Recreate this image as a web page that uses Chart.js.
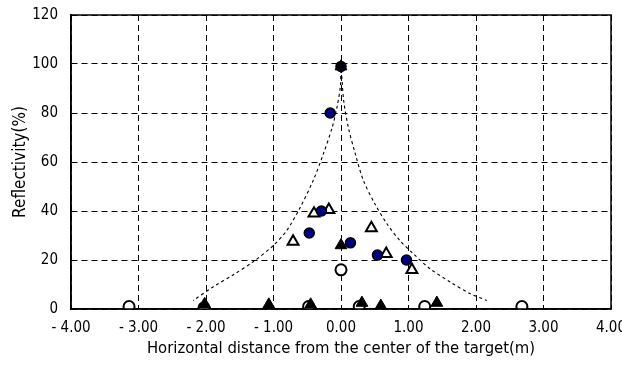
<!DOCTYPE html>
<html>
<head>
<meta charset="utf-8">
<script src="https://cdn.jsdelivr.net/npm/chart.js@4.4.0/dist/chart.umd.min.js"></script>
<style>
  html, body { margin: 0; padding: 0; background: #fff; }
  #wrap { width: 622px; height: 365px; }
</style>
</head>
<body>
<div id="wrap"><canvas id="reflectChart"></canvas></div>
<script>
// x ticks and labels
const xTickValues = [-4, -3, -2, -1, 0, 1, 2, 3, 4];
const xTickLabels = ["- 4.00", "- 3.00", "- 2.00", "- 1.00", "0.00", "1.00", "2.00", "3.00", "4.00"];
const yTickValues = [0, 20, 40, 60, 80, 100, 120];

// filled navy circles
const navyX = [0.00, -0.16, -0.29, -0.47, 0.14, 0.54, 0.97];
const navyY = [99, 80, 40, 31, 27, 22, 20];
// filled black triangles
const blackTriX = [0.00, 0.00, -2.02, -1.07, -0.45, 0.31, 0.59, 1.42];
const blackTriY = [99, 26, 2, 1.8, 1.8, 2.5, 1.3, 2.5];
// open triangles
const openTriX = [-0.71, -0.40, -0.18, 0.45, 0.67, 1.05];
const openTriY = [27.5, 39, 40.5, 33, 22.5, 16];
// open circles
const openCircX = [-3.14, -2.03, -0.48, 0.27, 1.24, 2.68, 0.00];
const openCircY = [1, 0.5, 1, 1, 1, 1, 16];
// dashed envelope, left and right branches
const leftCurveX = [0, -0.01, -0.06, -0.13, -0.26, -0.41, -0.60, -0.80, -1.00, -1.30, -1.60, -1.89, -2.19];
const leftCurveY = [100, 90.7, 82.3, 74.2, 63.4, 52.6, 41.7, 32.2, 26, 19.3, 13.9, 9.1, 3.5];
const rightCurveX = [0, 0.04, 0.11, 0.21, 0.33, 0.50, 0.68, 0.87, 1.07, 1.32, 1.62, 1.91, 2.16];
const rightCurveY = [100, 85, 74, 63.5, 52.6, 43, 34.8, 28, 22.6, 16.4, 11, 6.3, 3.5];

const toPoints = (xs, ys) => xs.map((x, i) => ({ x: x, y: ys[i] }));

const FONT = "'DejaVu Sans Condensed', 'DejaVu Sans', sans-serif";

// solid frame around the plot area
const framePlugin = {
  id: "frame",
  afterDraw(chart) {
    const a = chart.chartArea;
    const ctx = chart.ctx;
    ctx.save();
    ctx.strokeStyle = "#000";
    ctx.lineWidth = 1.5;
    ctx.setLineDash([]);
    ctx.strokeRect(a.left, a.top, a.right - a.left, a.bottom - a.top);
    ctx.restore();
  },
};

const ctx = document.getElementById("reflectChart").getContext("2d");
const chart = new Chart(ctx, {
  type: "scatter",
  data: {
    datasets: [
      {
        label: "filled triangles",
        data: toPoints(blackTriX, blackTriY),
        pointStyle: "triangle",
        pointRadius: 6.8,
        backgroundColor: "#000",
        borderColor: "#000",
        borderWidth: 1,
      },
      {
        label: "filled circles",
        data: toPoints(navyX, navyY),
        pointStyle: "circle",
        pointRadius: 5,
        backgroundColor: "#000080",
        borderColor: "#000",
        borderWidth: 1.5,
      },
      {
        label: "open triangles",
        data: toPoints(openTriX, openTriY),
        pointStyle: "triangle",
        pointRadius: 6.3,
        backgroundColor: "#fff",
        borderColor: "#000",
        borderWidth: 2,
      },
      {
        label: "open circles",
        data: toPoints(openCircX, openCircY),
        pointStyle: "circle",
        pointRadius: 5.5,
        backgroundColor: "#fff",
        borderColor: "#000",
        borderWidth: 2,
      },
      {
        label: "left curve",
        type: "line",
        data: toPoints(leftCurveX, leftCurveY),
        borderColor: "#000",
        borderWidth: 1.1,
        borderDash: [3, 3],
        pointRadius: 0,
        fill: false,
        tension: 0.3,
      },
      {
        label: "right curve",
        type: "line",
        data: toPoints(rightCurveX, rightCurveY),
        borderColor: "#000",
        borderWidth: 1.1,
        borderDash: [3, 3],
        pointRadius: 0,
        fill: false,
        tension: 0.3,
      },
    ],
  },
  options: {
    responsive: true,
    maintainAspectRatio: false,
    animation: false,
    layout: { padding: { top: 15, right: 11, left: 0, bottom: 0 } },
    plugins: {
      legend: { display: false },
      tooltip: { enabled: false },
    },
    scales: {
      x: {
        type: "linear",
        min: -4,
        max: 4,
        afterBuildTicks(scale) {
          scale.ticks = xTickValues.map((v) => ({ value: v }));
        },
        afterFit(scale) {
          scale.height = 56;
          scale.paddingLeft = 0;
          scale.paddingRight = 0;
        },
        grid: {
          color: "#000",
          lineWidth: 1,
          drawTicks: false,
        },
        // dash here applies to the grid lines
        border: { display: true, color: "#000", width: 1.5, dash: [6, 4] },
        ticks: {
          color: "#000",
          padding: 10,
          maxRotation: 0,
          font: { family: FONT, size: 15 },
          callback: (v) => xTickLabels[xTickValues.indexOf(v)],
        },
        title: {
          display: true,
          text: "Horizontal distance from the center of the target(m)",
          color: "#000",
          padding: { top: 0, bottom: 6 },
          font: { family: FONT, size: 16.5 },
        },
      },
      y: {
        min: 0,
        max: 120,
        afterBuildTicks(scale) {
          scale.ticks = yTickValues.map((v) => ({ value: v }));
        },
        afterFit(scale) {
          scale.width = 71;
          scale.paddingTop = 0;
          scale.paddingBottom = 0;
        },
        grid: {
          color: "#000",
          lineWidth: 1,
          drawTicks: false,
        },
        border: { display: true, color: "#000", width: 1.5, dash: [6, 4] },
        ticks: {
          color: "#000",
          padding: 13,
          font: { family: FONT, size: 15 },
        },
        title: {
          display: true,
          text: "Reflectivity(%)",
          color: "#000",
          padding: { top: 10, bottom: 0 },
          font: { family: FONT, size: 17 },
        },
      },
    },
  },
  plugins: [framePlugin],
});
</script>
</body>
</html>
